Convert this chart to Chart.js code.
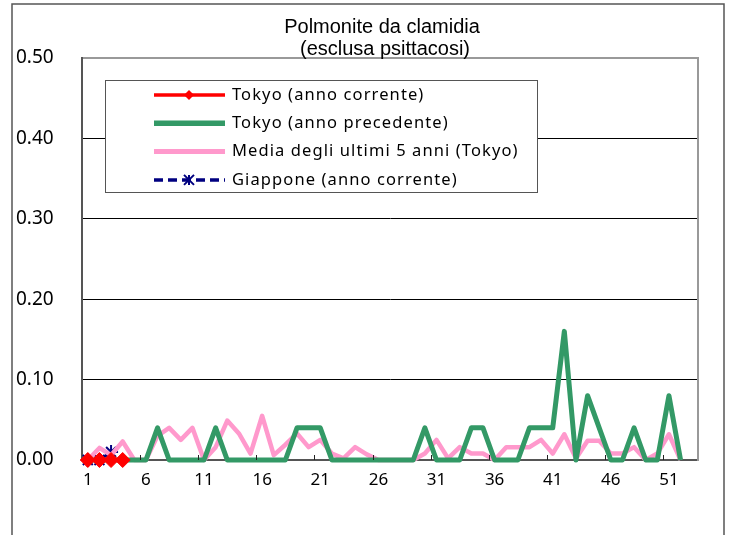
<!DOCTYPE html>
<html>
<head>
<meta charset="utf-8">
<script src="https://cdn.jsdelivr.net/npm/chart.js@4"></script>
<style>
  html, body { margin: 0; padding: 0; background: #fff; }
  #wrap { width: 732px; height: 535px; }
</style>
</head>
<body>
<div id="wrap"><canvas id="grafico" width="732" height="535"></canvas></div>
<script>
// settimane 1..53
const settimane = [];
for (let i = 1; i <= 53; i++) settimane.push(String(i));

const titolo = ['Polmonite da clamidia', '(esclusa psittacosi)'];

const etichette = [
  'Tokyo (anno corrente)',
  'Tokyo (anno precedente)',
  'Media degli ultimi 5 anni (Tokyo)',
  'Giappone (anno corrente)'
];

// Tokyo anno corrente (solo prime settimane)
const tokyoCorrente = [0, 0, 0, 0];

// Tokyo anno precedente
const tokyoPrecedente = [
  0, 0, 0, 0, 0, 0, 0.04, 0, 0, 0,
  0, 0.04, 0, 0, 0, 0, 0, 0, 0.04, 0.04,
  0.04, 0, 0, 0, 0, 0, 0, 0, 0, 0.04,
  0, 0, 0, 0.04, 0.04, 0, 0, 0, 0.04, 0.04,
  0.04, 0.16, 0, 0.08, 0.04, 0, 0, 0.04, 0, 0,
  0.08, 0
];

// media degli ultimi 5 anni
const media5anni = [
  0, 0.015, 0.006, 0.023, 0, 0, 0.03, 0.04, 0.025, 0.04,
  0, 0.016, 0.049, 0.033, 0.008, 0.055, 0.006, 0.019, 0.033, 0.016,
  0.025, 0.008, 0.002, 0.016, 0.007, 0, 0, 0, 0, 0.008,
  0.025, 0.002, 0.016, 0.008, 0.008, 0, 0.016, 0.016, 0.016, 0.025,
  0.008, 0.032, 0.002, 0.024, 0.024, 0.008, 0.008, 0.016, 0, 0.008,
  0.032, 0
];

// Giappone anno corrente
const giapponeCorrente = [0, 0, 0.01];

const yTicks = [0, 0.1, 0.2, 0.3, 0.4, 0.5];

// simboli della legenda
function diamante(ctx, x, y, r, colore) {
  ctx.fillStyle = colore;
  ctx.beginPath();
  ctx.moveTo(x, y - r);
  ctx.lineTo(x + r, y);
  ctx.lineTo(x, y + r);
  ctx.lineTo(x - r, y);
  ctx.closePath();
  ctx.fill();
}
function asterisco(ctx, x, y, r, colore) {
  ctx.strokeStyle = colore;
  ctx.lineWidth = 2;
  ctx.setLineDash([]);
  ctx.beginPath();
  ctx.moveTo(x - r, y - r); ctx.lineTo(x + r, y + r);
  ctx.moveTo(x - r, y + r); ctx.lineTo(x + r, y - r);
  ctx.moveTo(x, y - r); ctx.lineTo(x, y + r);
  ctx.stroke();
}

// cornice esterna, titolo, tacche e legenda
const decorazioni = {
  id: 'decorazioni',
  afterDraw(chart) {
    const ctx = chart.ctx;
    const area = chart.chartArea;
    const sx = chart.scales.x;
    ctx.save();

    // cornice esterna
    ctx.strokeStyle = '#555';
    ctx.lineWidth = 1.5;
    ctx.beginPath();
    ctx.moveTo(12, 540);
    ctx.lineTo(12, 4);
    ctx.lineTo(724, 4);
    ctx.lineTo(724, 540);
    ctx.stroke();

    // tacche asse x (verso l'interno)
    ctx.strokeStyle = '#222';
    ctx.lineWidth = 1;
    for (let i = 5; i < settimane.length; i += 5) {
      const x = Math.round((sx.getPixelForTick(i) + sx.getPixelForTick(i - 1)) / 2) + 0.5;
      ctx.beginPath();
      ctx.moveTo(x, area.bottom);
      ctx.lineTo(x, area.bottom - 5);
      ctx.stroke();
    }

    // titolo
    ctx.fillStyle = '#000';
    ctx.font = '20px "Liberation Sans", Arial, sans-serif';
    ctx.textAlign = 'center';
    ctx.textBaseline = 'middle';
    ctx.fillText(titolo[0], 382, 27);
    ctx.fillText(titolo[1], 385, 49);

    // legenda
    const lx = 105, ly = 80, lw = 432, lh = 112;
    ctx.fillStyle = '#fff';
    ctx.fillRect(lx, ly, lw, lh);
    ctx.strokeStyle = '#555';
    ctx.lineWidth = 1;
    ctx.strokeRect(lx + 0.5, ly + 0.5, lw, lh);
    ctx.font = '16.5px "Noto Sans", sans-serif';
    ctx.letterSpacing = '1.1px';
    ctx.textAlign = 'left';
    chart.data.datasets.forEach((ds, i) => {
      const y = 95 + i * 28.3;
      ctx.strokeStyle = ds.borderColor;
      ctx.lineWidth = ds.borderWidth + 0.5;
      ctx.setLineDash(ds.borderDash || []);
      ctx.beginPath();
      ctx.moveTo(154, y);
      ctx.lineTo(225, y);
      ctx.stroke();
      ctx.setLineDash([]);
      if (ds.pointStyle === 'rectRot') diamante(ctx, 189, y, 5, ds.borderColor);
      if (ds.pointStyle === 'star') asterisco(ctx, 189, y, 5, ds.borderColor);
      ctx.fillStyle = '#000';
      ctx.fillText(ds.label, 232, y);
    });
    ctx.restore();
  }
};

const ctx = document.getElementById('grafico').getContext('2d');
const grafico = new Chart(ctx, {
  type: 'line',
  data: {
    labels: settimane,
    datasets: [
      {
        label: etichette[0],
        data: tokyoCorrente,
        borderColor: '#ff0000',
        backgroundColor: '#ff0000',
        pointBackgroundColor: '#ff0000',
        pointBorderColor: '#ff0000',
        borderWidth: 3,
        pointStyle: 'rectRot',
        pointRadius: 7.5,
        pointBorderWidth: 1,
        clip: false
      },
      {
        label: etichette[1],
        data: tokyoPrecedente,
        borderColor: '#339966',
        backgroundColor: '#339966',
        borderWidth: 5,
        borderJoinStyle: 'round',
        pointRadius: 0,
        clip: false
      },
      {
        label: etichette[2],
        data: media5anni,
        borderColor: '#ff99cc',
        backgroundColor: '#ff99cc',
        borderWidth: 4.5,
        borderJoinStyle: 'round',
        pointRadius: 0,
        clip: false
      },
      {
        label: etichette[3],
        data: giapponeCorrente,
        borderColor: '#000080',
        backgroundColor: '#000080',
        pointBackgroundColor: '#000080',
        pointBorderColor: '#000080',
        borderWidth: 3,
        borderDash: [9, 5],
        pointStyle: 'star',
        pointRadius: 7,
        pointBorderWidth: 2,
        clip: false
      }
    ]
  },
  options: {
    responsive: false,
    animation: false,
    layout: { padding: { left: 16, right: 34, top: 58, bottom: 35 } },
    elements: { line: { tension: 0 } },
    plugins: {
      legend: { display: false },
      title: { display: false },
      tooltip: { enabled: false }
    },
    scales: {
      x: {
        offset: true,
        grid: { display: false, drawTicks: false },
        border: { display: true, color: '#555', width: 2 },
        ticks: {
          autoSkip: false,
          maxRotation: 0,
          padding: 10,
          color: '#000',
          font: { family: 'Noto Sans', size: 17 },
          callback: function(val, i) { return i % 5 === 0 ? settimane[i] : ''; }
        },
        afterFit: s => { s.height = 40; }
      },
      y: {
        min: 0,
        max: 0.5,
        afterBuildTicks: s => { s.ticks = yTicks.map(v => ({ value: v })); },
        grid: {
          color: c => (c.tick && c.tick.value === 0.5 ? '#999' : '#000'),
          lineWidth: c => (c.tick && c.tick.value === 0.5 ? 2 : 1),
          drawTicks: false
        },
        border: { display: true, color: '#555', width: 2 },
        ticks: {
          crossAlign: 'far',
          padding: 0,
          color: '#000',
          font: { family: 'Noto Sans', size: 19 },
          callback: v => v.toFixed(2)
        },
        afterFit: s => { s.width = 66; }
      },
      y2: {
        position: 'right',
        min: 0,
        max: 0.5,
        grid: { display: false, drawTicks: false },
        border: { display: true, color: '#999', width: 2 },
        ticks: { display: false },
        afterFit: s => { s.width = 0; }
      }
    }
  },
  plugins: [decorazioni]
});
</script>
</body>
</html>
